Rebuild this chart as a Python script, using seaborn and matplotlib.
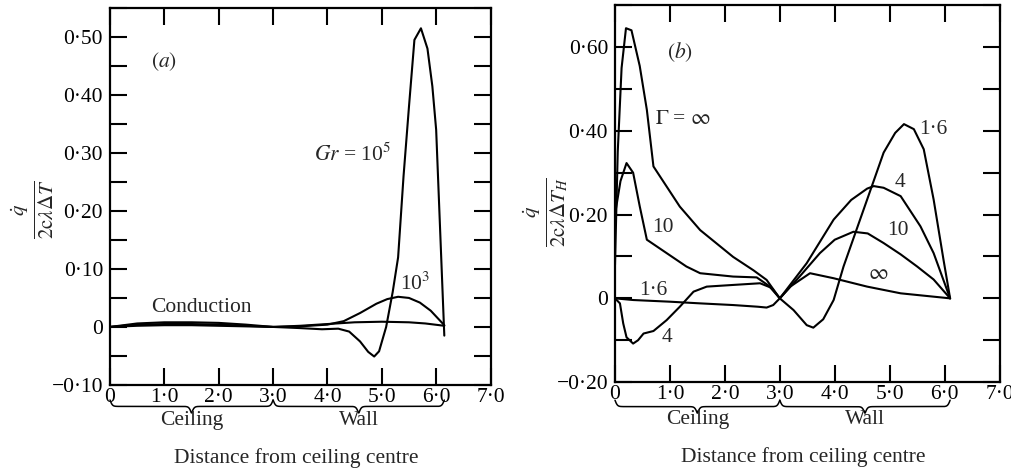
import numpy as np
import pandas as pd
import matplotlib
matplotlib.use("Agg")
import matplotlib.pyplot as plt
from matplotlib.ticker import FuncFormatter
import seaborn as sns

# ---------------------------------------------
# Panel (a): ceiling/wall heat flux, Gr curves
# ---------------------------------------------
cond_x = [0, 0.5, 1.0, 1.5, 2.0, 2.5, 3.0, 3.5, 4.0, 4.5, 5.0, 5.5, 5.8, 6.15]
cond_y = [0, 0.006, 0.008, 0.008, 0.007, 0.004, 0.0, 0.002, 0.005, 0.008, 0.009, 0.008, 0.006, 0.002]

gr3_x = [0, 0.5, 1.0, 1.5, 2.0, 2.5, 3.0, 3.5, 4.0, 4.3, 4.6, 4.9, 5.1, 5.3, 5.5, 5.7, 5.9, 6.15]
gr3_y = [0, 0.004, 0.005, 0.005, 0.004, 0.002, 0.0, 0.001, 0.004, 0.01, 0.024, 0.04, 0.048,
         0.052, 0.05, 0.042, 0.028, 0.003]

gr5_x = [0, 0.5, 1.0, 1.5, 2.0, 2.5, 3.0, 3.5, 3.9, 4.2, 4.4, 4.6, 4.75, 4.86, 4.95, 5.08,
         5.2, 5.3, 5.4, 5.5, 5.6, 5.72, 5.84, 5.93, 6.0, 6.15]
gr5_y = [0, 0.002, 0.003, 0.003, 0.002, 0.001, 0.0, -0.002, -0.004, -0.003, -0.008, -0.025,
         -0.043, -0.051, -0.042, 0.0, 0.06, 0.12, 0.26, 0.38, 0.495, 0.515, 0.48, 0.415, 0.34, -0.015]

# ---------------------------------------------
# Panel (b): heat flux for different Gamma
# ---------------------------------------------
ginf_x = [0, 0.05, 0.12, 0.2, 0.3, 0.45, 0.58, 0.7, 0.82, 1.18, 1.55, 2.15, 2.52, 2.76, 3.0,
          3.19, 3.55, 3.98, 4.59, 5.2, 6.1]
ginf_y = [0.08, 0.35, 0.55, 0.645, 0.64, 0.555, 0.45, 0.315, 0.291, 0.219, 0.163, 0.099, 0.067,
          0.044, 0.0, 0.028, 0.06, 0.048, 0.028, 0.012, 0.0]

g10_x = [0, 0.1, 0.21, 0.33, 0.45, 0.58, 0.94, 1.3, 1.55, 2.15, 2.58, 2.8, 3.0, 3.36, 3.73,
         4.0, 4.34, 4.6, 4.89, 5.2, 5.5, 5.8, 6.1]
g10_y = [0.2, 0.28, 0.323, 0.30, 0.22, 0.14, 0.108, 0.076, 0.06, 0.052, 0.05, 0.03, 0.0, 0.052,
         0.108, 0.14, 0.159, 0.155, 0.132, 0.105, 0.076, 0.045, 0.0]

g4_x = [0, 0.09, 0.15, 0.21, 0.33, 0.42, 0.52, 0.7, 0.94, 1.18, 1.43, 1.67, 2.15, 2.64, 2.85,
        3.0, 3.49, 3.98, 4.3, 4.59, 4.71, 4.89, 5.2, 5.56, 5.8, 6.1]
g4_y = [0, -0.012, -0.06, -0.093, -0.108, -0.1, -0.084, -0.078, -0.052, -0.02, 0.016, 0.028,
        0.032, 0.036, 0.025, 0.0, 0.084, 0.188, 0.235, 0.262, 0.268, 0.264, 0.244, 0.172, 0.108, 0.0]

g16_x = [0, 0.33, 1.0, 1.55, 2.15, 2.6, 2.76, 2.88, 3.0, 3.25, 3.49, 3.61, 3.79, 3.98, 4.16,
         4.59, 4.89, 5.1, 5.26, 5.44, 5.62, 5.8, 5.98, 6.1]
g16_y = [0, -0.004, -0.008, -0.012, -0.016, -0.02, -0.022, -0.016, 0.0, -0.028, -0.064, -0.07,
         -0.05, -0.004, 0.076, 0.236, 0.348, 0.395, 0.416, 0.404, 0.356, 0.236, 0.092, 0.0]

# ceiling / wall extents for the braces under the axes
segments_a = [(0.0, 3.0, "Ceiling"), (3.0, 6.15, "Wall")]
segments_b = [(0.0, 3.0, "Ceiling"), (3.0, 6.1, "Wall")]

sns.set_style("ticks")
plt.rcParams['font.family'] = ['Liberation Serif', 'DejaVu Serif']
plt.rcParams['mathtext.fontset'] = 'stix'
FS = 15.5

fig = plt.figure(figsize=(10.12, 4.70), dpi=100)
ax_a = fig.add_axes([0.1087, 0.181, 0.376, 0.802])
ax_b = fig.add_axes([0.6077, 0.187, 0.380, 0.802])


def fmt_y(v, pos):
    if abs(v) < 1e-9:
        return "0"
    return f"{v:.2f}".replace(".", "·").replace("-", "\u2212")


def fmt_x(v, pos):
    if abs(v) < 1e-9:
        return "0"
    return f"{v:.1f}".replace(".", "·")


def draw_brace(ax, x0, x1, label, y_top, depth, y_text):
    tr = ax.get_xaxis_transform()
    n = 200
    xs = np.linspace(x0, x1, 2 * n)
    half = xs[:n]
    beta = 45.0
    yh = 1 / (1 + np.exp(-beta * (half - half[0]))) + 1 / (1 + np.exp(-beta * (half - half[-1])))
    yy = np.concatenate([yh, yh[::-1]])
    ax.plot(xs, y_top - (yy - 0.5) * depth, color='black', lw=1.1, transform=tr, clip_on=False)
    ax.text((x0 + x1) / 2, y_text, label, transform=tr, ha='center', va='center', fontsize=FS)


def style_axes(ax, ylim, major, minor, label, label_xy, segs, brace_y):
    ax.set_xlim(0, 7)
    ax.set_ylim(*ylim)
    ax.set_xticks(np.arange(0, 8, 1))
    ax.set_yticks(major)
    ax.set_yticks(minor, minor=True)
    ax.xaxis.set_major_formatter(FuncFormatter(fmt_x))
    ax.yaxis.set_major_formatter(FuncFormatter(fmt_y))
    ax.tick_params(which='both', direction='in', length=12, width=1.5,
                   top=True, right=True, bottom=True, left=True, labelsize=FS, colors='black')
    ax.tick_params(axis='x', pad=2)
    ax.tick_params(axis='y', pad=5)
    for s in ax.spines.values():
        s.set_linewidth(1.6)
        s.set_color('black')
    ax.set_xlabel("")
    ax.set_ylabel(label, fontsize=FS + 6, rotation=90, va='center', ha='center')
    ax.yaxis.set_label_coords(*label_xy)
    for x0, x1, name in segs:
        draw_brace(ax, x0, x1, name, brace_y[0], brace_y[1], brace_y[2])
    ax.text(3.42, brace_y[3], "Distance from ceiling centre", transform=ax.get_xaxis_transform(),
            ha='center', va='center', fontsize=FS)


# panel (a)
for xs, ys in [(cond_x, cond_y), (gr3_x, gr3_y), (gr5_x, gr5_y)]:
    sns.lineplot(x=xs, y=ys, ax=ax_a, color='black', lw=1.5, sort=False, estimator=None)

style_axes(ax_a, (-0.10, 0.55), np.arange(-0.1, 0.51, 0.1), np.arange(-0.1, 0.551, 0.05),
           r'$\frac{\dot{q}}{2\mathrm{c}\lambda\Delta T}$', (-0.205, 0.465),
           segments_a, (-0.04, 0.034, -0.094, -0.195))
ax_a.text(1.0, 0.457, r'$(a)$', fontsize=FS, ha='center', va='center')
ax_a.text(4.46, 0.297, r'$Gr$ = 10$^{5}$', fontsize=FS, ha='center', va='center')
ax_a.text(5.62, 0.074, r'10$^{3}$', fontsize=FS, ha='center', va='center')
ax_a.text(1.69, 0.033, "Conduction", fontsize=FS, ha='center', va='center')

# panel (b)
for xs, ys in [(ginf_x, ginf_y), (g10_x, g10_y), (g4_x, g4_y), (g16_x, g16_y)]:
    sns.lineplot(x=xs, y=ys, ax=ax_b, color='black', lw=1.5, sort=False, estimator=None)

style_axes(ax_b, (-0.20, 0.70), np.arange(-0.2, 0.61, 0.2), np.arange(-0.2, 0.701, 0.1),
           r'$\frac{\dot{q}}{2\mathrm{c}\lambda\Delta T_H}$', (-0.18, 0.45),
           segments_b, (-0.048, 0.034, -0.10, -0.20))
ax_b.text(1.18, 0.588, r'$(b)$', fontsize=FS, ha='center', va='center')
ax_b.text(1.24, 0.427, r'$\Gamma$ = $\infty$', fontsize=FS, ha='center', va='center')
ax_b.text(0.87, 0.168, "10", fontsize=FS, ha='center', va='center')
ax_b.text(0.69, 0.019, "1·6", fontsize=FS, ha='center', va='center')
ax_b.text(0.95, -0.094, "4", fontsize=FS, ha='center', va='center')
ax_b.text(5.79, 0.403, "1·6", fontsize=FS, ha='center', va='center')
ax_b.text(5.19, 0.276, "4", fontsize=FS, ha='center', va='center')
ax_b.text(5.15, 0.163, "10", fontsize=FS, ha='center', va='center')
ax_b.text(4.79, 0.058, r'$\infty$', fontsize=FS, ha='center', va='center')

fig.savefig("out.png", dpi=100)
